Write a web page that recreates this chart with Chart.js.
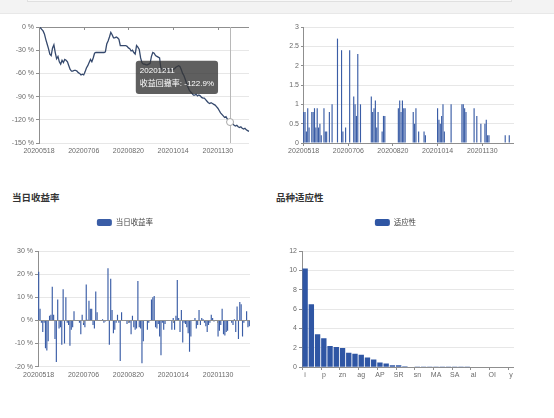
<!DOCTYPE html>
<html><head><meta charset="utf-8">
<script src="https://cdn.jsdelivr.net/npm/chart.js@4.4.0/dist/chart.umd.min.js"></script>
<style>
html,body{margin:0;padding:0;background:#fff;width:554px;height:418px;overflow:hidden;font-family:"Liberation Sans","Noto Sans CJK SC",sans-serif;}
.topband{position:absolute;left:0;top:0;width:554px;height:13px;background:#f3f3f3;border-bottom:1px solid #e8e8e8;}
.topbox{position:absolute;left:27px;top:0;width:483px;height:1px;background:#f8f8f8;border:1px solid #e0e0e0;border-top:none;}
.box{position:absolute;}
.title{position:absolute;font-family:"Noto Sans CJK SC",sans-serif;font-weight:bold;font-size:9.5px;line-height:10px;color:#333;}
</style></head><body>
<div class="topband"></div><div class="topbox"></div>
<div class="box" style="left:0;top:14px;"><canvas id="c1" width="277" height="152"></canvas></div>
<div class="box" style="left:277px;top:14px;"><canvas id="c2" width="277" height="152"></canvas></div>
<div class="title" style="left:12px;top:192px;">当日收益率</div>
<div class="title" style="left:276px;top:192px;">品种适应性</div>
<div class="box" style="left:0;top:205px;"><canvas id="c3" width="277" height="182"></canvas></div>
<div class="box" style="left:277px;top:205px;"><canvas id="c4" width="277" height="182"></canvas></div>
<script>
// ---------- DATA ----------
const dates = [
"20200518","20200519","20200520","20200521","20200522","20200525","20200526","20200527","20200528","20200529",
"20200601","20200602","20200603","20200604","20200605","20200608","20200609","20200610","20200611","20200612",
"20200615","20200616","20200617","20200618","20200619","20200622","20200623","20200624","20200629","20200630",
"20200701","20200702","20200703","20200706","20200707","20200708","20200709","20200710","20200713","20200714",
"20200715","20200716","20200717","20200720","20200721","20200722","20200723","20200724","20200727","20200728",
"20200729","20200730","20200731",
"20200803","20200804","20200805","20200806","20200807","20200810","20200811","20200812","20200813","20200814",
"20200817","20200818","20200819","20200820","20200821","20200824","20200825","20200826","20200827","20200828","20200831",
"20200901","20200902","20200903","20200904","20200907","20200908","20200909","20200910","20200911","20200914",
"20200915","20200916","20200917","20200918","20200921","20200922","20200923","20200924","20200925","20200928",
"20200929","20200930",
"20201009","20201012","20201013","20201014","20201015","20201016","20201019","20201020","20201021","20201022",
"20201023","20201026","20201027","20201028","20201029","20201030",
"20201102","20201103","20201104","20201105","20201106","20201109","20201110","20201111","20201112","20201113",
"20201116","20201117","20201118","20201119","20201120","20201123","20201124","20201125","20201126","20201127","20201130",
"20201201","20201202","20201203","20201204","20201207","20201208","20201209","20201210","20201211","20201214",
"20201215","20201216","20201217","20201218","20201221","20201222","20201223","20201224","20201225","20201228",
"20201229","20201230","20201231"
];
const drawdown = [
0,-1,-3,-5,-9,-16,-22,-28,-35,-37,-27,-23,-33,
-41,-38,-45,-48,-43,-46,-42,-43,-45,-50,-55,-57,-57,
-56,-56,-57,-59,-60,-62,-61,-62,-58,-53,-50,-46,-42,
-45,-40,-34,-33,-33,-33,-33,-33,-33,-33,-32,-22,-18,
-13,-7,-10,-14,-14,-13,-14,-16,-24,-24,-24,-24,-24,
-25,-27,-28,-31,-30,-33,-35,-24,-26,-29,-40,-46,-48,
-48,-49,-49,-48,-47,-38,-33,-34,-37,-38,-39,-40,-54,
-54,-55,-54,-54,-55,-55,-55,-54,-55,-54,-52,-51,-50,
-51,-55,-60,-63,-68,-73,-78,-82,-84,-86,-88,-88,-87,
-89,-88,-89,-91,-92,-92,-94,-96,-98,-99,-98,-99,-100,
-101,-103,-105,-108,-111,-113,-115,-117,-116,-119,-121,-122.9,-124,
-125,-127,-128,-127,-129,-130,-129,-131,-132,-131,-133,-134,-135
];
const ratioValues = [
0.8,0.8,0.3,0.9,0.4,0,0.8,0.8,0.9,0.4,0.9,0.4,0.5,
0.2,0,0.9,0.3,0.3,0,0.8,0,1.0,0,0,0,2.7,
0,0,2.4,0.3,0,0.4,0,0,2.4,0,0,1.2,1.0,
0.7,2.3,0,1.0,0,0,0,0,0,0,0,1.2,0.8,
0.9,1.1,0.4,0.8,0,0,0.3,0.7,0.7,0,0,0,0,
0,0,0,0,0,0.9,1.1,0.8,1.1,0.9,0.9,0,0,
0,0,0,0.8,0.5,0.9,0,0.3,0,0,0,0.3,0.2,
0,0,0,0,0,0,0,0,0.9,0.6,0.5,0.7,1.0,
0.3,0,0,0,0,1.0,0,0,0,0,0,0,0,
1.0,1.0,0.9,0.8,0,0,0,0,0,0.9,0,0.7,0,
0,0.5,0,0,0.5,0.6,0.2,0.2,0,0,0,0,0,
0,0,0,0,0,0,0.2,0,0,0.2,0,0,0
];
const dailyReturn = [
21,5,-1,-5,-1,-12,-13,-9,2,2.5,14.5,2.5,-8,
-18,9,-3.5,-3,-10.5,13.5,-10,10,-1,-2,-11,-4,-3,
4,0,0,0,-1,-6,2.5,-2,-3,15.5,0.3,8.5,5,
5,-2,-3.5,12.5,3.5,0,0,0,0.5,-1,-0.5,0,22.5,
-10.5,18,4.5,-5.5,-4,-1,2.5,-1,-17.5,3.5,0,0,0,
-1.5,0,-1,-6,2,-3,-4,-3.5,17,-3,-3.5,-18.5,-9,
0,0,-4,-1,0,9,10,10.5,-3,-3.5,-1.5,-7,-15,
-1,-4,-1.5,0,0,0,0,-4,1,-4,2,17.5,1,
-5,4.5,-9.5,-1,-1.5,-3,-5.5,-13.5,-7,0,0,1,-3.5,
-2,4.5,-2,1,0.5,-1,-2.5,-5,-2,-1,2.5,1,-0.5,
0,0,-7,-4.5,-2,5,-6,-6.5,-5,-4.5,0,0,-1,
-2,0.5,-5,6,-8,8,7,-7,-1,0,4,-3,-2.5
];
const varieties = ["i","j","jm","p","rb","hc","zn","cu","ni","ag","au","ru","AP","CF","TA","SR","FG","pb",
  "sn","bu","fu","MA","RM","m","SA","pp","l","al","v","eg","OI","c","a","y"];
const adaptability = [10.2,6.5,3.4,3.0,2.2,2.1,2.0,1.5,1.4,1.3,1.0,0.8,0.5,0.4,0.2,0.2,0.1,
  0.05,0.04,0.03,0.02,0.02,0.01,0.01,0.01,0.01,0.01,0,0,0,0,0,0,0];
const drawdownTicks = {min:-150, max:0, step:30};
const ratioTicks = {min:0, max:3, step:0.5};
const returnTicks = {min:-20, max:30, step:10};
const adaptTicks = {min:0, max:12, step:2};
const dateLabelStep = 33;
const varietyLabelStep = 3;
const highlightDate = "20201211";

// ---------- STYLE ----------
const FONT = '"Liberation Sans", "Noto Sans CJK SC", sans-serif';
const AXIS = '#8f8f8f', GRID = '#e7e7e7', LABEL = '#6a6a6a';
const LINE = '#35496d', BAR = '#3a5da6', BAR2 = '#2f56a4';
Chart.defaults.font.family = FONT;

const xTickMarks = {
  id: 'xTickMarks',
  afterDatasetsDraw(chart, args, o) {
    const xs = chart.scales.x, ys = chart.scales.y, ctx = chart.ctx;
    const y0 = ys.getPixelForValue(0);
    const half = o.boundary ? (xs.getPixelForValue(1) - xs.getPixelForValue(0)) / 2 : 0;
    ctx.save(); ctx.strokeStyle = AXIS; ctx.lineWidth = 1; ctx.beginPath();
    for (let i = 0; i < chart.data.labels.length; i += o.step) {
      const px = Math.round(xs.getPixelForValue(i) - half) + 0.5;
      ctx.moveTo(px, Math.round(y0)); ctx.lineTo(px, Math.round(y0) + o.len);
    }
    ctx.stroke(); ctx.restore();
  }
};
const axisPointer = {
  id: 'axisPointer',
  beforeDatasetsDraw(chart) {
    const act = chart.tooltip ? chart.tooltip.getActiveElements() : [];
    if (!act.length) return;
    const x = Math.round(act[0].element.x) + 0.5, a = chart.chartArea, ctx = chart.ctx;
    ctx.save(); ctx.strokeStyle = '#b8b8b8'; ctx.lineWidth = 1;
    ctx.beginPath(); ctx.moveTo(x, a.top); ctx.lineTo(x, a.bottom); ctx.stroke(); ctx.restore();
  }
};
Chart.Tooltip.positioners.nearPoint = function(items) {
  if (!items.length) return false;
  const el = items[0].element;
  return { x: el.x - 15, y: el.y - 28 };
};

function yAxis(t, width, tl, fmt) {
  return {
    min: t.min, max: t.max,
    afterFit: s => { s.width = width; },
    ticks: { stepSize: t.step, padding: 2, color: LABEL, font: {size: 7, family: FONT}, callback: fmt },
    grid: { color: c => (c.tick && c.tick.value === 0) ? AXIS : GRID, lineWidth: 1, drawTicks: true, tickLength: tl, tickColor: AXIS },
    border: { display: true, color: AXIS, width: 1 }
  };
}
function xAxis(offset, height, step) {
  return {
    offset: offset,
    afterFit: s => { s.height = height; },
    grid: { display: false, drawTicks: false },
    border: { display: false },
    ticks: { autoSkip: false, maxRotation: 0, minRotation: 0, padding: 4, color: LABEL, font: {size: 7, family: FONT},
      callback: function(v, i) { return i % step === 0 ? this.getLabelForValue(v) : ''; } }
  };
}
const spacer = h => ({ type: 'category', position: 'top', display: true, afterFit: s => { s.height = h; },
  grid: {display: false, drawTicks: false}, border: {display: false}, ticks: {display: false} });
const legendOpts = { display: true, position: 'top', align: 'center',
  labels: { boxWidth: 15, boxHeight: 7, padding: 6, color: '#444', font: {size: 7.5, family: FONT}, useBorderRadius: true, borderRadius: 2 } };
const pct = v => v + ' %';
const plain = v => String(v);
const activeIndex = dates.indexOf(highlightDate);

// ---------- CHART 1: drawdown line ----------
const c1 = new Chart(document.getElementById('c1'), {
  type: 'line',
  data: { labels: dates, datasets: [{ label: '收益回撤率', data: drawdown, borderColor: LINE, borderWidth: 1.3,
    tension: 0, fill: false,
    pointRadius: c => c.dataIndex === activeIndex ? 3.5 : 0,
    pointHoverRadius: c => c.dataIndex === activeIndex ? 3.5 : 0,
    pointBackgroundColor: '#fff', pointBorderColor: '#a5a5a5', pointBorderWidth: 1,
    pointHoverBackgroundColor: '#fff', pointHoverBorderColor: '#a5a5a5', pointHoverBorderWidth: 1 }] },
  options: {
    responsive: false, animation: false, events: [], devicePixelRatio: 1,
    layout: { padding: { top: 13, right: 28, left: 0, bottom: 0 } },
    scales: { x: xAxis(false, 23, dateLabelStep), y: yAxis(drawdownTicks, 39, 3, pct) },
    plugins: {
      legend: { display: false },
      xTickMarks: { step: dateLabelStep, len: 3, boundary: false },
      tooltip: { enabled: true, position: 'nearPoint', xAlign: 'right', yAlign: 'bottom',
        caretSize: 0, caretPadding: 0, cornerRadius: 3, backgroundColor: 'rgba(55,55,55,0.8)',
        titleFont: {size: 8, weight: 'normal', family: FONT}, bodyFont: {size: 8, family: FONT},
        titleColor: '#fff', bodyColor: '#fff', padding: {x: 4, y: 5}, titleMarginBottom: 4, displayColors: false,
        callbacks: { label: c => c.dataset.label + ': ' + c.parsed.y + '%' } }
    }
  },
  plugins: [xTickMarks, axisPointer]
});
c1.setActiveElements([{datasetIndex: 0, index: activeIndex}]);
c1.tooltip.setActiveElements([{datasetIndex: 0, index: activeIndex}], {x: 0, y: 0});
c1.update();

// ---------- CHART 2: ratio bars ----------
new Chart(document.getElementById('c2'), {
  type: 'bar',
  data: { labels: dates, datasets: [{ label: '比值', data: ratioValues, backgroundColor: BAR,
    categoryPercentage: 0.85, barPercentage: 1 }] },
  options: {
    responsive: false, animation: false, events: [], devicePixelRatio: 1,
    layout: { padding: { top: 13, right: 40, left: 0, bottom: 0 } },
    scales: { x: xAxis(true, 23, dateLabelStep), y: yAxis(ratioTicks, 26, 2, plain) },
    plugins: { legend: { display: false }, tooltip: { enabled: false },
      xTickMarks: { step: dateLabelStep, len: 3, boundary: true } }
  },
  plugins: [xTickMarks]
});

// ---------- CHART 3: daily return ----------
new Chart(document.getElementById('c3'), {
  type: 'bar',
  data: { labels: dates, datasets: [{ label: '当日收益率', data: dailyReturn, backgroundColor: BAR,
    categoryPercentage: 0.85, barPercentage: 1 }] },
  options: {
    responsive: false, animation: false, events: [], devicePixelRatio: 1,
    layout: { padding: { top: 7.75, right: 27, left: 0, bottom: 0 } },
    scales: { x: xAxis(true, 20.3, dateLabelStep), y: yAxis(returnTicks, 38, 3, pct), xs: spacer(14.75) },
    plugins: { legend: legendOpts, tooltip: { enabled: false },
      xTickMarks: { step: dateLabelStep, len: 3, boundary: true } }
  },
  plugins: [xTickMarks]
});

// ---------- CHART 4: adaptability ----------
new Chart(document.getElementById('c4'), {
  type: 'bar',
  data: { labels: varieties, datasets: [{ label: '适应性', data: adaptability, backgroundColor: BAR2,
    categoryPercentage: 0.86, barPercentage: 1 }] },
  options: {
    responsive: false, animation: false, events: [], devicePixelRatio: 1,
    layout: { padding: { top: 7.75, right: 40, left: 0, bottom: 0 } },
    scales: { x: xAxis(true, 19.7, varietyLabelStep), y: yAxis(adaptTicks, 25, 3, plain), xs: spacer(14.75) },
    plugins: { legend: legendOpts, tooltip: { enabled: false },
      xTickMarks: { step: varietyLabelStep, len: 3, boundary: true } }
  },
  plugins: [xTickMarks]
});
</script>
</body></html>
